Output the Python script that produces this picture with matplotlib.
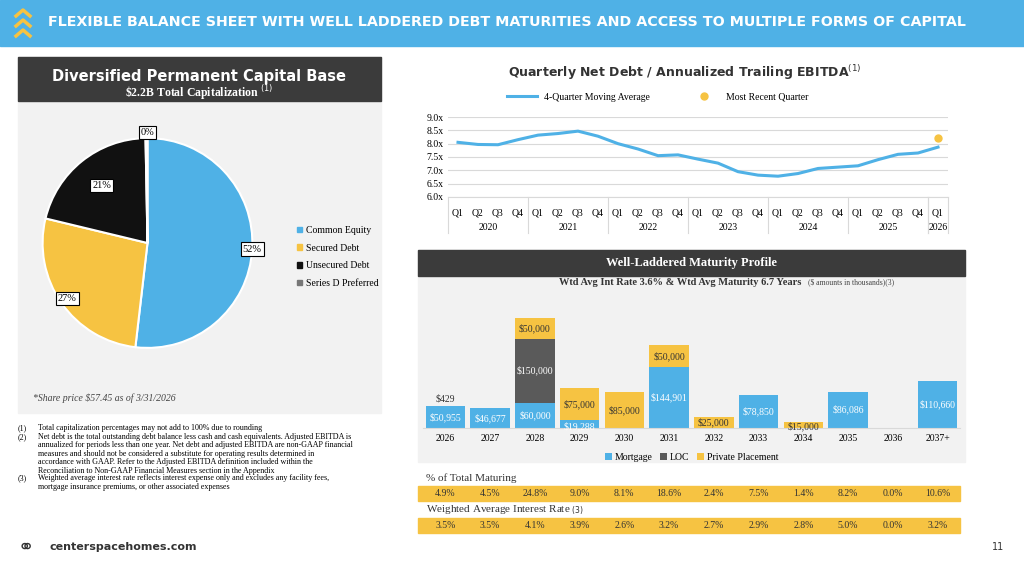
import matplotlib.pyplot as plt
import matplotlib.patches as mpatches
import numpy as np

plt.rcParams['font.family'] = ['Liberation Serif', 'DejaVu Serif']

W, H = 1024, 563
BLUE = '#4fb1e6'
YEL = '#f6c342'
DARK = '#3b3b3b'
LOCC = '#5a5a5a'

# pie data
pie_labels = ['Common Equity', 'Secured Debt', 'Unsecured Debt', 'Series D Preferred']
pie_vals = [52, 27, 21, 0.3]
pie_txt = ['52%', '27%', '21%', '0%']
pie_cols = [BLUE, YEL, '#111111', '#777777']

# line data
quarters = ['Q1', 'Q2', 'Q3', 'Q4'] * 6 + ['Q1']
years = ['2020', '2021', '2022', '2023', '2024', '2025', '2026']
ma = [8.05, 7.97, 7.96, 8.15, 8.32, 8.38, 8.47, 8.28, 8.00, 7.80, 7.55, 7.58,
      7.42, 7.27, 6.95, 6.82, 6.78, 6.88, 7.07, 7.12, 7.17, 7.40, 7.60, 7.65, 7.87]
recent = 8.22

# maturity data
mat_years = ['2026', '2027', '2028', '2029', '2030', '2031', '2032', '2033', '2034', '2035', '2036', '2037+']
mortgage = [50955, 46677, 60000, 19288, 0, 144901, 0, 78850, 0, 86086, 0, 110660]
loc_ = [429, 0, 150000, 0, 0, 0, 0, 0, 0, 0, 0, 0]
private = [0, 0, 50000, 75000, 85000, 50000, 25000, 0, 15000, 0, 0, 0]
pct_maturing = ['4.9%', '4.5%', '24.8%', '9.0%', '8.1%', '18.6%', '2.4%', '7.5%', '1.4%', '8.2%', '0.0%', '10.6%']
wair = ['3.5%', '3.5%', '4.1%', '3.9%', '2.6%', '3.2%', '2.7%', '2.9%', '2.8%', '5.0%', '0.0%', '3.2%']

fig = plt.figure(figsize=(W / 100, H / 100), dpi=100)
fig.patch.set_facecolor('white')


def ax_px(x0, y0, x1, y1, **kw):
    return fig.add_axes([x0 / W, 1 - y1 / H, (x1 - x0) / W, (y1 - y0) / H], **kw)


def rect(x0, y0, x1, y1, color, **kw):
    fig.patches.append(mpatches.Rectangle((x0 / W, 1 - y1 / H), (x1 - x0) / W, (y1 - y0) / H,
                                          transform=fig.transFigure, color=color, zorder=-5, **kw))


def ftext(x, y, s, **kw):
    fig.text(x / W, 1 - y / H, s, **kw)


# header
rect(0, 0, W, 46, BLUE)
for i in range(3):
    yy = 1 - (12 + i * 10) / H
    fig.add_artist(plt.Line2D([16 / W, 23 / W, 30 / W], [yy - 4 / H, yy + 2 / H, yy - 4 / H],
                              transform=fig.transFigure, color=YEL, lw=2.5))
ftext(48, 22, 'FLEXIBLE BALANCE SHEET WITH WELL LADDERED DEBT MATURITIES AND ACCESS TO MULTIPLE FORMS OF CAPITAL',
      color='white', fontsize=10.3, fontweight='bold', va='center', family=['DejaVu Sans Condensed', 'DejaVu Sans'])

# left panel
rect(18, 57, 381, 413, '#f2f2f2')
rect(18, 57, 381, 101, DARK)
ftext(199, 76, 'Diversified Permanent Capital Base', color='white', fontsize=10.5, fontweight='bold',
      ha='center', va='center', family=['DejaVu Sans Condensed', 'DejaVu Sans'])
ftext(199, 93, r'\$2.2B Total Capitalization $^{(1)}$', color='white', fontsize=8.5, fontweight='bold',
      ha='center', va='center')

axp = ax_px(30, 118, 265, 368)
wedges, _ = axp.pie(pie_vals, colors=pie_cols, startangle=90, counterclock=False,
                    wedgeprops=dict(edgecolor='white', linewidth=1.5))
axp.set_aspect('equal')
for w, t, r in zip(wedges, pie_txt, [1.0, 0.93, 0.7, 1.15]):
    ang = np.deg2rad((w.theta1 + w.theta2) / 2)
    if t == '0%':
        pos = (0.0, 1.05)
    else:
        pos = (r * np.cos(ang), r * np.sin(ang))
    axp.text(pos[0], pos[1], t, ha='center', va='center', fontsize=7.5,
             bbox=dict(facecolor='white', edgecolor='black', linewidth=0.8, pad=1.5))
axp.set_xlim(-1.12, 1.12)
axp.set_ylim(-1.12, 1.12)

handles = [mpatches.Patch(color=c, label=l) for c, l in zip(pie_cols, pie_labels)]
leg = fig.legend(handles=handles, loc='center left', bbox_to_anchor=(288 / W, 1 - 257 / H), frameon=False,
                 fontsize=7, handlelength=0.5, handleheight=0.5, handletextpad=0.5, labelspacing=0.9)
ftext(33, 398, '*Share price $57.45 as of 3/31/2026', fontsize=7, style='italic', color='#444444', va='center')

notes = [('(1)', 'Total capitalization percentages may not add to 100% due to rounding'),
         ('(2)', 'Net debt is the total outstanding debt balance less cash and cash equivalents. Adjusted EBITDA is\n'
                 'annualized for periods less than one year. Net debt and adjusted EBITDA are non-GAAP financial\n'
                 'measures and should not be considered a substitute for operating results determined in\n'
                 'accordance with GAAP. Refer to the Adjusted EBITDA definition included within the\n'
                 'Reconciliation to Non-GAAP Financial Measures section in the Appendix'),
         ('(3)', 'Weighted average interest rate reflects interest expense only and excludes any facility fees,\n'
                 'mortgage insurance premiums, or other associated expenses')]
ny = 424
for n, s in notes:
    ftext(18, ny, n, fontsize=5.8, va='top')
    ftext(38, ny, s, fontsize=5.8, va='top', linespacing=1.1)
    ny += 8.2 * (s.count('\n') + 1) + 0.5

# line chart
ftext(685, 73, 'Quarterly Net Debt / Annualized Trailing EBITDA$^{(1)}$', fontsize=9, fontweight='bold',
      ha='center', va='center', color='#333333', family=['DejaVu Sans Condensed', 'DejaVu Sans'])
axl = ax_px(448, 117, 948, 197)
x = np.arange(len(ma))
axl.plot(x, ma, color=BLUE, lw=2.2, label='4-Quarter Moving Average')
axl.plot([x[-1]], [recent], 'o', color=YEL, ms=5, label='Most Recent Quarter')
axl.set_xlim(-0.5, len(ma) - 0.5)
axl.set_ylim(6.0, 9.0)
axl.set_yticks(np.arange(6.0, 9.01, 0.5))
axl.set_yticklabels([f'{v:.1f}x' for v in np.arange(6.0, 9.01, 0.5)], fontsize=7)
axl.grid(axis='y', color='#d9d9d9', lw=0.8)
axl.set_axisbelow(True)
for s in axl.spines.values():
    s.set_visible(False)
axl.tick_params(length=0, pad=3)
axl.set_xticks(x)
axl.set_xticklabels(quarters, fontsize=7)
axl.tick_params(axis='x', pad=8)
for i, yr in enumerate(years):
    cx = i * 4 + 1.5 if i < 6 else 24
    axl.text(cx, -0.38, yr, transform=axl.get_xaxis_transform(), ha='center', va='center', fontsize=7)
for b in list(np.arange(-0.5, 24, 4)) + [23.5, 24.5]:
    axl.plot([b, b], [0, -0.45], transform=axl.get_xaxis_transform(), color='#d9d9d9', lw=0.8, clip_on=False)
axl.plot([-0.5, 24.5], [0, 0], transform=axl.get_xaxis_transform(), color='#d9d9d9', lw=0.8, clip_on=False)
axl.legend(loc='lower center', bbox_to_anchor=(0.42, 1.08), ncol=2, frameon=False, fontsize=7,
           columnspacing=4, handlelength=3)

# maturity panel
rect(418, 250, 965, 462, '#f2f2f2')
rect(418, 250, 965, 276, DARK)
ftext(691, 263, 'Well-Laddered Maturity Profile', color='white', fontsize=9, fontweight='bold',
      ha='center', va='center')
ftext(680, 283, 'Wtd Avg Int Rate 3.6% & Wtd Avg Maturity 6.7 Years', fontsize=7.5, fontweight='bold',
      ha='center', va='center', color='#333333')
ftext(808, 282, '($ amounts in thousands)(3)', fontsize=5.5, va='center', color='#444444')

axb = ax_px(423, 295, 960, 428)
axb.set_facecolor('#f2f2f2')
xb = np.arange(len(mat_years))
mo = np.array(mortgage)
lo = np.array(loc_)
pp = np.array(private)
axb.bar(xb, mo, width=0.88, color=BLUE, label='Mortgage')
axb.bar(xb, lo, bottom=mo, width=0.88, color=LOCC, label='LOC')
axb.bar(xb, pp, bottom=mo + lo, width=0.88, color=YEL, label='Private Placement')
for i in xb:
    if mo[i]:
        yy = mo[i] / 2 if mo[i] > 25000 else 4000
        axb.text(i, yy, f'${mo[i]:,}', ha='center', va='center', color='white', fontsize=7)
    if lo[i] > 1000:
        axb.text(i, mo[i] + lo[i] / 2, f'${lo[i]:,}', ha='center', va='center', color='white', fontsize=7)
    elif lo[i]:
        axb.text(i, mo[i] + 18000, f'${lo[i]:,}', ha='center', va='center', color='#333333', fontsize=7)
    if pp[i]:
        yy = mo[i] + lo[i] + pp[i] / 2 if pp[i] > 20000 else mo[i] + lo[i] + 3000
        axb.text(i, yy, f'${pp[i]:,}', ha='center', va='center', color='#333333', fontsize=7)
axb.set_xlim(-0.5, len(xb) - 0.5)
axb.set_ylim(0, 314000)
axb.set_yticks([])
for s in ['top', 'left', 'right']:
    axb.spines[s].set_visible(False)
axb.spines['bottom'].set_color('#d9d9d9')
axb.set_xticks(xb)
axb.set_xticklabels(mat_years, fontsize=7)
axb.tick_params(length=0, pad=4)
axb.legend(loc='upper center', bbox_to_anchor=(0.5, -0.12), ncol=3, frameon=False, fontsize=7,
           handlelength=0.7, handleheight=0.7, handletextpad=0.3, columnspacing=0.8)

# tables
ftext(426, 478, '% of Total Maturing', fontsize=8, va='center', color='#333333')
rect(418, 486, 960, 501, YEL)
ftext(426, 510, 'Weighted Average Interest Rate $_{(3)}$', fontsize=8, va='center', color='#333333')
rect(418, 518, 960, 533, YEL)
colw = (960 - 423) / 12
for i in range(12):
    cx = 423 + colw * (i + 0.5)
    ftext(cx, 494, pct_maturing[i], fontsize=7, ha='center', va='center', color='#333333')
    ftext(cx, 526, wair[i], fontsize=7, ha='center', va='center', color='#333333')

# footer
ftext(26, 547, '⚭', fontsize=14, ha='center', va='center', color='#333333', family=['DejaVu Sans'])
ftext(50, 547, 'centerspacehomes.com', fontsize=8, va='center', fontweight='bold', color='#333333',
      family=['DejaVu Sans'])
ftext(998, 547, '11', fontsize=7, va='center', ha='center', color='#333333', family=['DejaVu Sans'])

fig.savefig('out.png', dpi=100)
